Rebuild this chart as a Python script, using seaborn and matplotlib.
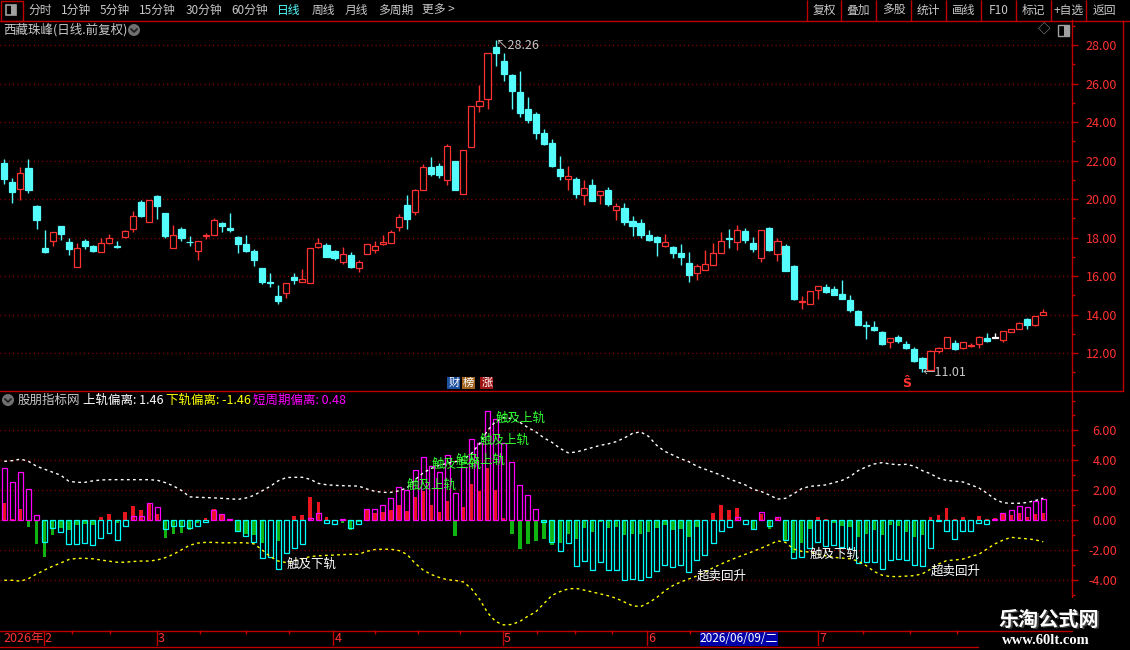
import numpy as np
import matplotlib
matplotlib.use("Agg")
import matplotlib.pyplot as plt
from matplotlib.patches import Rectangle, Circle
from matplotlib.ticker import FormatStrFormatter, MultipleLocator
import seaborn as sns

W, H = 1130, 650

# ---- daily candles (西藏珠峰, 前复权) ----
opens = [21.87, 20.88, 20.54, 21.61, 19.64, 17.44, 17.84, 18.60, 17.77, 16.48,
         17.82, 17.56, 17.26, 17.73, 17.56, 18.03, 18.44, 19.84, 18.81, 20.16,
         19.27, 17.45, 18.44, 17.78, 17.30, 18.08, 18.13, 18.75, 18.48, 18.03,
         17.66, 17.30, 16.42, 15.67, 14.96, 15.13, 15.95, 15.67, 15.62, 17.49,
         17.61, 17.30, 16.74, 17.07, 16.43, 17.13, 17.37, 17.65, 17.70, 18.53,
         19.69, 19.31, 20.45, 21.66, 21.71, 20.97, 21.97, 20.26, 22.72, 24.85,
         25.18, 27.90, 27.17, 26.44, 25.56, 24.68, 24.42, 23.43, 22.91, 21.56,
         21.02, 21.04, 20.23, 20.73, 20.19, 20.47, 19.45, 19.53, 18.86, 18.75,
         18.13, 18.03, 17.58, 17.51, 17.19, 16.68, 16.17, 16.33, 16.59, 17.21,
         17.97, 17.78, 18.34, 17.71, 16.94, 18.49, 17.16, 17.56, 16.52, 14.65,
         14.53, 15.26, 15.41, 15.31, 15.06, 14.74, 14.18, 13.45, 13.37, 13.09,
         12.55, 12.85, 12.47, 12.19, 11.72, 11.13, 12.09, 12.24, 12.50, 12.24,
         12.35, 12.47, 12.80, 12.78, 12.66, 13.07, 13.23, 13.77, 13.44, 13.96]
closes = [21.04, 20.36, 21.33, 20.47, 18.91, 17.25, 18.29, 18.18, 17.40, 17.44,
          17.56, 17.30, 17.70, 17.96, 17.52, 18.34, 19.12, 19.12, 19.95, 19.64,
          18.08, 18.13, 17.97, 17.75, 17.82, 18.11, 18.91, 18.60, 18.41, 17.66,
          17.30, 16.83, 15.69, 15.64, 14.72, 15.62, 15.81, 15.84, 17.44, 17.70,
          17.00, 16.95, 17.13, 16.48, 16.71, 17.65, 17.54, 17.77, 18.29, 19.06,
          18.98, 20.45, 21.66, 21.32, 21.26, 22.75, 20.48, 22.53, 24.81, 25.09,
          27.57, 27.60, 26.48, 25.63, 24.48, 24.10, 23.45, 22.86, 21.71, 21.21,
          21.19, 20.28, 20.57, 19.91, 20.40, 19.76, 19.62, 18.81, 18.61, 18.13,
          17.87, 17.77, 17.77, 17.19, 16.99, 16.05, 16.52, 16.62, 17.19, 17.82,
          17.94, 18.39, 17.87, 17.40, 18.39, 17.35, 17.82, 16.26, 14.81, 14.68,
          15.22, 15.46, 15.15, 15.03, 14.82, 14.25, 13.47, 13.42, 13.19, 12.47,
          12.76, 12.61, 12.24, 11.60, 11.20, 12.10, 12.24, 12.81, 12.19, 12.55,
          12.43, 12.81, 12.64, 12.78, 13.13, 13.23, 13.54, 13.47, 13.92, 14.11]
highs = [22.08, 21.09, 21.66, 22.08, 19.69, 18.39, 18.29, 18.60, 17.96, 17.70,
         17.92, 17.61, 17.96, 18.18, 17.82, 18.39, 19.38, 19.95, 19.95, 20.21,
         19.27, 18.65, 18.55, 18.08, 17.82, 18.23, 19.00, 18.81, 19.27, 18.08,
         18.13, 17.40, 16.42, 16.14, 15.53, 15.62, 16.16, 16.36, 17.44, 17.97,
         17.70, 17.35, 17.49, 17.23, 16.83, 17.65, 17.80, 18.13, 18.39, 19.22,
         20.21, 20.52, 21.80, 22.18, 21.85, 22.86, 21.97, 22.53, 24.81, 25.92,
         27.57, 28.26, 27.60, 26.51, 26.65, 25.32, 24.54, 23.64, 23.12, 22.23,
         21.71, 21.14, 20.99, 21.04, 20.40, 20.62, 19.79, 19.79, 19.12, 18.96,
         18.39, 18.08, 18.18, 17.56, 17.66, 17.25, 16.62, 17.35, 17.71, 18.29,
         18.44, 18.65, 18.49, 18.03, 18.39, 18.55, 17.97, 17.66, 16.57, 14.96,
         15.22, 15.46, 15.58, 15.46, 15.79, 15.00, 14.22, 13.66, 13.66, 13.14,
         12.76, 12.95, 12.62, 12.29, 11.77, 12.14, 12.29, 12.81, 12.66, 12.55,
         12.50, 12.90, 13.02, 13.02, 13.13, 13.23, 13.61, 13.82, 13.92, 14.29]
lows = [20.78, 19.81, 19.95, 20.31, 18.44, 17.21, 17.56, 17.87, 17.09, 16.48,
        17.40, 17.25, 17.26, 17.68, 17.44, 17.97, 18.29, 19.06, 18.81, 18.96,
        17.97, 17.45, 17.82, 17.56, 16.83, 17.92, 18.13, 18.29, 18.29, 17.19,
        17.25, 16.52, 15.58, 15.45, 14.55, 14.87, 15.58, 15.67, 15.62, 17.44,
        17.00, 16.81, 16.64, 16.42, 16.23, 17.13, 17.21, 17.59, 17.70, 18.34,
        18.44, 19.17, 20.45, 21.21, 21.11, 20.71, 20.48, 20.26, 22.72, 24.54,
        24.69, 26.93, 26.15, 24.69, 24.28, 23.97, 23.13, 22.81, 21.66, 21.00,
        20.47, 20.07, 19.71, 19.91, 19.76, 19.65, 18.93, 18.65, 18.08, 17.97,
        17.82, 17.04, 17.52, 16.94, 16.57, 15.69, 15.79, 16.33, 16.59, 17.21,
        17.45, 17.35, 17.71, 17.25, 16.73, 17.30, 16.80, 16.26, 14.75, 14.30,
        14.53, 14.79, 15.10, 15.00, 14.79, 14.13, 13.44, 12.74, 13.16, 12.40,
        12.24, 12.54, 12.19, 11.55, 11.01, 11.13, 11.98, 12.24, 12.16, 12.22,
        12.29, 12.24, 12.55, 12.78, 12.55, 13.07, 13.23, 13.26, 13.39, 13.96]

# ---- indicator (股朋指标网) ----
dev_long = [3.46, 2.52, 3.19, 2.05, 0.31, -1.45, -0.51, -0.78, -1.58, -1.58,
            -1.52, -1.65, -1.18, -0.85, -1.32, -0.42, 0.27, 0.27, 1.14, 0.85,
            -0.58, -0.38, -0.38, -0.51, -0.38, -0.11, 0.67, 0.40, 0.07, -0.71,
            -1.05, -1.45, -2.52, -2.46, -3.26, -2.19, -1.85, -1.58, 0.13, 0.47,
            -0.18, -0.25, 0.07, -0.51, -0.25, 0.71, 0.71, 0.98, 1.45, 2.19,
            1.99, 3.33, 4.22, 3.62, 3.19, 4.33, 1.79, 3.55, 5.42, 5.13,
            7.30, 6.76, 5.13, 3.88, 2.34, 1.67, 0.71, -0.11, -1.45, -2.05,
            -1.56, -3.06, -2.72, -3.33, -2.79, -3.33, -3.33, -4.00, -3.93, -4.00,
            -3.79, -3.39, -2.99, -3.12, -2.99, -3.46, -2.66, -2.32, -1.52, -0.71,
            -0.45, 0.20, -0.25, -0.58, 0.54, -0.38, 0.20, -1.32, -2.52, -2.46,
            -1.85, -1.45, -1.72, -1.65, -1.79, -1.92, -2.86, -2.79, -2.79, -3.26,
            -2.66, -2.59, -2.66, -2.99, -3.06, -1.85, -0.05, -0.71, -1.25, -0.71,
            -0.71, -0.18, -0.25, 0.09, 0.47, 0.65, 0.94, 0.87, 1.27, 1.38]
dev_short = [1.14, 0.05, 0.74, -0.45, -1.61, -2.46, -0.98, -0.56, -0.67, -0.33,
             -0.29, -0.33, 0.20, 0.40, -0.18, 0.54, 0.94, 0.67, 1.10, 0.38,
             -1.18, -0.92, -0.85, -0.65, -0.18, 0.11, 0.74, 0.33, 0.02, -0.71,
             -0.92, -0.98, -1.52, -0.10, -1.38, -0.10, 0.27, 0.33, 1.54, 1.21,
             0.20, -0.05, -0.18, -0.65, -0.11, 0.66, 0.49, 0.54, 0.67, 1.00,
             0.60, 1.54, 1.94, 1.00, 0.54, 1.27, -1.07, 0.87, 2.41, 1.94,
             3.48, 1.99, 0.13, -0.94, -1.94, -1.61, -1.41, -1.27, -1.67, -1.52,
             -0.94, -1.27, -0.51, -0.78, -0.11, -0.51, -0.45, -0.98, -0.92, -0.92,
             -0.78, -0.51, -0.33, -0.67, -0.58, -1.12, -0.45, -0.05, 0.49, 1.00,
             0.67, 0.80, -0.02, -0.58, 0.40, -0.58, 0.13, -1.32, -2.19, -1.52,
             -0.58, 0.20, 0.07, -0.18, -0.38, -0.45, -1.12, -0.92, -0.65, -0.98,
             -0.31, -0.38, -0.78, -1.12, -0.98, 0.20, 0.33, 0.80, 0.07, 0.20,
             0.00, 0.27, 0.07, 0.13, 0.40, 0.33, 0.47, 0.20, 0.40, 0.48]
upper_band = [3.93, 3.97, 4.08, 3.93, 3.60, 3.40, 3.20, 3.00, 2.60, 2.52,
              2.52, 2.62, 2.68, 2.70, 2.70, 2.70, 2.70, 2.70, 2.70, 2.66,
              2.50, 2.28, 1.98, 1.55, 1.52, 1.50, 1.48, 1.45, 1.42, 1.38,
              1.47, 1.65, 1.95, 2.25, 2.62, 2.84, 2.86, 2.86, 2.72, 2.45,
              2.36, 2.32, 2.30, 2.28, 2.27, 2.08, 1.92, 1.85, 1.85, 1.95,
              2.15, 2.70, 3.15, 3.45, 3.65, 3.80, 3.90, 4.05, 4.45, 5.10,
              6.00, 6.60, 6.85, 6.80, 6.55, 6.20, 5.90, 5.50, 5.20, 4.80,
              4.50, 4.55, 4.70, 4.85, 5.00, 5.10, 5.25, 5.50, 5.80, 5.90,
              5.60, 5.00, 4.60, 4.35, 4.10, 3.90, 3.60, 3.40, 3.20, 3.00,
              2.75, 2.55, 2.35, 2.05, 1.90, 1.67, 1.40, 1.45, 1.75, 2.10,
              2.25, 2.30, 2.35, 2.50, 2.65, 2.90, 3.30, 3.55, 3.75, 3.84,
              3.75, 3.70, 3.73, 3.60, 3.30, 3.10, 2.80, 2.65, 2.60, 2.55,
              2.35, 2.15, 1.80, 1.40, 1.15, 1.12, 1.12, 1.17, 1.30, 1.46]
lower_band = [-4.04, -4.04, -4.10, -3.93, -3.62, -3.35, -3.10, -2.88, -2.65, -2.57,
              -2.57, -2.60, -2.68, -2.76, -2.83, -2.83, -2.78, -2.75, -2.75, -2.68,
              -2.52, -2.30, -2.00, -1.70, -1.55, -1.50, -1.50, -1.53, -1.53, -1.52,
              -1.53, -1.60, -2.00, -2.45, -2.75, -2.85, -2.75, -2.60, -2.45, -2.40,
              -2.37, -2.35, -2.32, -2.30, -2.30, -2.10, -1.98, -1.96, -1.96, -2.05,
              -2.30, -2.90, -3.35, -3.65, -3.85, -4.00, -4.05, -4.15, -4.60, -5.30,
              -6.20, -6.80, -7.03, -7.00, -6.80, -6.45, -6.15, -5.60, -5.05, -4.80,
              -4.62, -4.58, -4.70, -4.82, -4.95, -5.08, -5.25, -5.50, -5.75, -5.80,
              -5.55, -5.20, -4.75, -4.40, -4.15, -3.95, -3.75, -3.50, -3.20, -2.95,
              -2.72, -2.50, -2.30, -2.10, -1.88, -1.65, -1.40, -1.50, -1.95, -2.10,
              -2.15, -2.30, -2.40, -2.50, -2.55, -2.60, -2.75, -3.05, -3.45, -3.70,
              -3.79, -3.79, -3.76, -3.73, -3.60, -3.30, -2.95, -2.72, -2.68, -2.62,
              -2.45, -2.30, -1.95, -1.60, -1.35, -1.16, -1.22, -1.26, -1.33, -1.46]

touch_up_idx = [50, 53, 56, 59, 61]
touch_up_val = [2.34, 3.73, 4.02, 5.36, 6.81]
touch_dn_idx = [35, 100]
touch_dn_val = [-2.95, -2.30]
rebound_idx = [86, 115]
rebound_val = [-3.73, -3.42]

# x axis (trading-day index positions)
month_pos = [4.9, 18.9, 40.85, 61.9, 79.8, 101.0]
month_lbl = ["2", "3", "4", "5", "6", "7"]
week_pos = [8.37, 13.12, 24.3, 29.97, 35.39, 46.03, 51.4, 56.58, 66.2, 70.86,
            75.4, 85.14, 106.66, 112.45, 118.25]

price_ticks = [12, 14, 16, 18, 20, 22, 24, 26, 28]
ind_ticks = [-4, -2, 0, 2, 4, 6]

tool_left = ["分时", "1分钟", "5分钟", "15分钟", "30分钟", "60分钟", "日线", "周线", "月线", "多周期", "更多 >"]
tool_left_x = [28, 61, 100, 139, 186, 231, 277, 312, 345, 378, 422]
tool_right = ["复权", "叠加", "多股", "统计", "画线", "F10", "标记", "+自选", "返回"]
tool_sep = [807, 841, 876, 911, 946, 981, 1016, 1051, 1086, 1123]

RED = "#FF3232"
CYAN = "#54FCFC"
AXRED = "#C00000"
GRID = "#8C0000"
TXT = "#C8C8C8"

sns.set_theme(style="dark", rc={"axes.facecolor": "black", "figure.facecolor": "black",
                                "savefig.facecolor": "black"})
plt.rcParams["font.family"] = ["Noto Sans CJK SC", "DejaVu Sans"]
plt.rcParams["axes.unicode_minus"] = False

fig = plt.figure(figsize=(W / 100, H / 100), dpi=100)


def px_axes(x0, y0, x1, y1, **kw):
    return fig.add_axes([x0 / W, 1 - y1 / H, (x1 - x0) / W, (y1 - y0) / H], **kw)


n = len(opens)
idx = np.arange(n)
o = np.array(opens)
c = np.array(closes)
xlim = (-0.534, 132.57)


def style_right_axis(ax, ticks):
    for s in ["top", "bottom", "left"]:
        ax.spines[s].set_visible(False)
    ax.spines["right"].set_color(AXRED)
    ax.spines["right"].set_linewidth(1)
    ax.yaxis.tick_right()
    ax.set_yticks(ticks)
    ax.yaxis.set_minor_locator(MultipleLocator(1))
    ax.yaxis.set_major_formatter(FormatStrFormatter("%.2f"))
    ax.tick_params(axis="y", which="major", length=4.3, width=1, color=AXRED,
                   labelcolor=RED, labelsize=9, pad=28, direction="out")
    ax.tick_params(axis="y", which="minor", length=2.2, width=1, color=AXRED, direction="out")
    for lab in ax.get_yticklabels():
        lab.set_horizontalalignment("right")
    ax.set_xticks([])
    ax.set_xlim(*xlim)
    for t in ticks:
        ax.axhline(t, color=GRID, lw=1, linestyle=(0, (0.8, 2.2)), zorder=0)
    ax.grid(False)


# ---- price panel ----
ax1 = px_axes(0, 20, 1072, 390)
ax1.set_ylim(10.08, 29.30)
style_right_axis(ax1, price_ticks)

col = np.where(c > o, RED, np.where(c < o, CYAN, "#FFFFFF"))
face = np.where(c > o, "black", col)
ax1.vlines(idx, lows, highs, colors=col, lw=1, zorder=2)
ax1.bar(idx, np.maximum(np.abs(c - o), 0.03), bottom=np.minimum(o, c), width=0.76,
        color=face, edgecolor=col, linewidth=0.9, zorder=3)

imax = int(np.argmax(highs))
imin = int(np.argmin(lows))
ax1.text(imax, highs[imax] - 0.26, "↖28.26".replace("28.26", f"{highs[imax]:.2f}"),
         color=TXT, fontsize=9, va="center", ha="left")
ax1.text(imin, lows[imin] - 0.04, f"←{lows[imin]:.2f}", color=TXT, fontsize=9,
         va="center", ha="left")
ax1.text(112, 10.44, "Ŝ", color=RED, fontsize=9, ha="center", va="center",
         fontweight="bold", family="DejaVu Sans")
for xi, ch, bg in [(55.8, "财", "#1E50A0"), (57.6, "榜", "#A0641E"), (59.9, "涨", "#A01414")]:
    ax1.text(xi, 10.44, ch, color="white", fontsize=8, ha="center", va="center",
             bbox=dict(boxstyle="square,pad=0.08", fc=bg, ec="none"))

# ---- indicator panel ----
ax2 = px_axes(0, 391, 1072, 630)
ax2.set_ylim(-7.37, 8.64)
style_right_axis(ax2, ind_ticks)

A = np.array(dev_long)
B = np.array(dev_short)
ax2.bar(idx, B, width=0.46, color=np.where(B >= 0, "#E8141E", "#10B410"), linewidth=0, zorder=2)
ax2.bar(idx, A, width=0.62, facecolor="none",
        edgecolor=np.where(A >= 0, "#FF00FF", "#00FFFF"), linewidth=0.9, zorder=3)

sns.lineplot(x=idx, y=upper_band, ax=ax2, color="white", lw=1, linestyle=(0, (2, 2.4)),
             legend=False, zorder=4)
sns.lineplot(x=idx, y=lower_band, ax=ax2, color="#FFFF00", lw=1, linestyle=(0, (2, 2.4)),
             legend=False, zorder=4)
ax2.set_xlim(*xlim)
ax2.set_ylim(-7.37, 8.64)
ax2.set_xlabel("")
ax2.set_ylabel("")

for xi, v in zip(touch_up_idx, touch_up_val):
    ax2.text(xi, v, "触及上轨", color="#32FF32", fontsize=9, ha="left", va="center", zorder=5)
for xi, v in zip(touch_dn_idx, touch_dn_val):
    ax2.text(xi, v, "触及下轨", color="white", fontsize=9, ha="left", va="center", zorder=5)
for xi, v in zip(rebound_idx, rebound_val):
    ax2.text(xi, v, "超卖回升", color="white", fontsize=9, ha="left", va="center", zorder=5)

# ---- date strip ----
ax3 = px_axes(0, 630, 1072, 646)
ax3.set_xlim(*xlim)
ax3.set_ylim(1, 0)
ax3.axis("off")
ax3.vlines(month_pos, 0, 1, color=AXRED, lw=1)
ax3.vlines(week_pos, 0, 0.27, color=AXRED, lw=1)
ax3.text(month_pos[0], 0.55, "2026年", color=RED, fontsize=9, ha="right", va="center")
for xp, lb in zip(month_pos, month_lbl):
    ax3.text(xp + 0.15, 0.55, lb, color=RED, fontsize=9, ha="left", va="center")

# ---- window chrome ----
ov = fig.add_axes([0, 0, 1, 1], zorder=10)
ov.set_xlim(0, W)
ov.set_ylim(H, 0)
ov.axis("off")

ov.plot([0, W], [20.5, 20.5], color=AXRED, lw=1)
ov.add_patch(Rectangle((0.5, 0.5), 22, 20, fc="none", ec=AXRED, lw=1))
ov.add_patch(Rectangle((6, 5), 10, 10, fc="none", ec="#A0A0A0", lw=1.2))
ov.add_patch(Rectangle((11, 5), 5, 10, fc="#A0A0A0", ec="none"))
for xt, t in zip(tool_left_x, tool_left):
    ov.text(xt, 10.5, t, color=CYAN if t == "日线" else TXT, fontsize=8.5, ha="left", va="center")
ov.vlines(tool_sep[:-1], 0, 20.5, color=AXRED, lw=1)
for k, t in enumerate(tool_right):
    ov.text((tool_sep[k] + tool_sep[k + 1]) / 2, 10.5, t, color=TXT, fontsize=8.5,
            ha="center", va="center")

ov.text(3, 30, "西藏珠峰(日线.前复权)", color=TXT, fontsize=9, ha="left", va="center")
for cx, cy in [(134, 30), (8, 400)]:
    ov.add_patch(Circle((cx, cy), 6, fc="#707070", ec="none"))
    ov.plot([cx - 3, cx, cx + 3], [cy - 1, cy + 2, cy - 1], color="#202020", lw=1.3)
ov.text(1044, 30, "◇", color="#A0A0A0", fontsize=9, ha="center", va="center")
ov.add_patch(Rectangle((1058, 24.5), 11, 11, fc="none", ec="#A0A0A0", lw=1))
ov.add_patch(Rectangle((1064, 24.5), 5, 11, fc="#A0A0A0", ec="none"))

ov.plot([1123, 1123], [20.5, 391], color=AXRED, lw=1)
ov.plot([0, 1123], [391, 391], color=AXRED, lw=1)
ov.plot([0, 1072], [630.5, 630.5], color=AXRED, lw=1)
ov.plot([0, 978], [646.5, 646.5], color=AXRED, lw=1)

ov.text(18, 400, "股朋指标网", color=TXT, fontsize=9, ha="left", va="center")
ov.text(83, 400, f"上轨偏离: {upper_band[-1]:.2f}", color="white", fontsize=9, ha="left", va="center")
ov.text(166, 400, f"下轨偏离: {lower_band[-1]:.2f}", color="#FFFF00", fontsize=9, ha="left", va="center")
ov.text(253, 400, f"短周期偏离: {dev_short[-1]:.2f}", color="#FF00FF", fontsize=9, ha="left", va="center")

ov.add_patch(Rectangle((700, 631), 78, 14.5, fc="#0000A8", ec="none"))
ov.text(739, 638.5, "2026/06/09/二", color="white", fontsize=8.5, ha="center", va="center")

# watermark corner
ov.add_patch(Rectangle((978, 598), W - 978, H - 598, fc="black", ec="none"))
ov.text(1050.5, 620.5, "乐淘公式网", color="#404040", fontsize=14.5, fontweight="bold",
        ha="center", va="center")
ov.text(1049, 619, "乐淘公式网", color="white", fontsize=14.5, fontweight="bold",
        ha="center", va="center")
ov.text(1046, 640, "www.60lt.com", color="white", fontsize=10.5, fontweight="bold",
        family="Liberation Serif", ha="center", va="center")

fig.savefig("out.png", dpi=100, facecolor="black")
